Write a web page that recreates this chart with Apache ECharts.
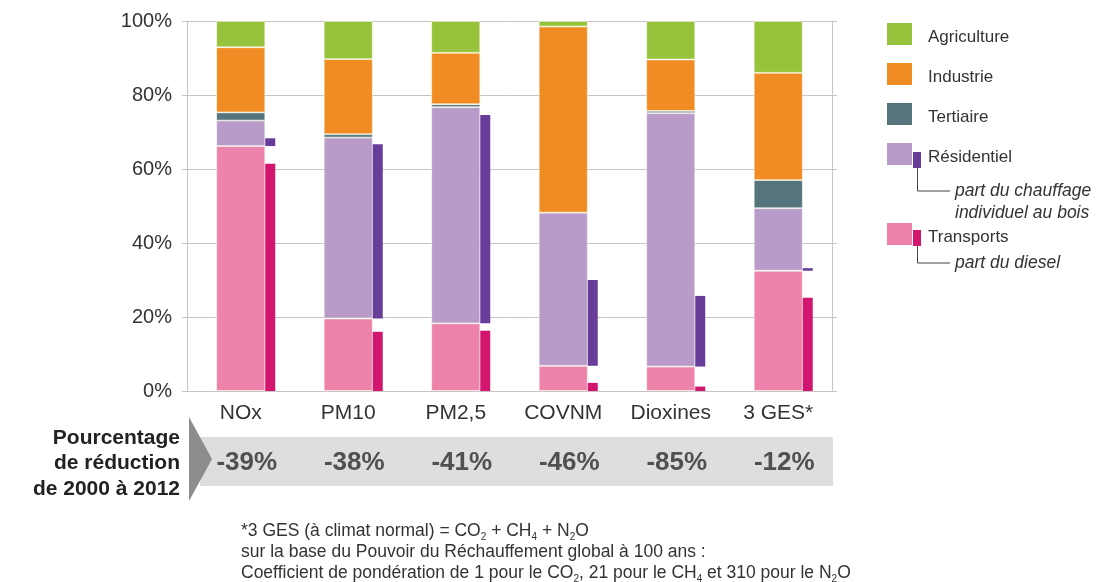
<!DOCTYPE html>
<html>
<head>
<meta charset="utf-8">
<script src="https://cdn.jsdelivr.net/npm/echarts@6/dist/echarts.min.js"></script>
<style>
  html, body { margin: 0; padding: 0; background: #fff; }
  #chart { width: 1105px; height: 582px; }
</style>
</head>
<body>
<div id="chart"></div>
<script>
// Polluants (catégories) et part de chaque secteur dans les émissions (%)
const categories  = ['NOx', 'PM10', 'PM2,5', 'COVNM', 'Dioxines', '3 GES*'];
const transports  = [66.2, 19.6, 18.3, 6.8, 6.6, 32.5];
const residentiel = [6.9, 48.9, 58.4, 41.4, 68.5, 16.9];
const tertiaire   = [2.2, 0.9, 0.8, 0.0, 0.6, 7.6];
const industrie   = [17.6, 20.3, 13.9, 50.3, 13.9, 29.0];
const agriculture = [7.1, 10.3, 8.6, 1.5, 10.4, 14.0];
// Sous-parts : chauffage individuel au bois (dans le résidentiel), diesel (dans les transports)
const chauffageBois = [2.1, 47.1, 56.3, 23.2, 19.1, 0.7];
const diesel        = [61.4, 16.0, 16.3, 2.2, 1.2, 25.2];
// Pourcentage de réduction de 2000 à 2012
const reductions = ['-39%', '-38%', '-41%', '-46%', '-85%', '-12%'];
const yTicks = [0, 20, 40, 60, 80, 100];

const FONT = "'Liberation Sans', Arial, sans-serif";
const MAIN_W = 49;
const THIN_W = 10;

const COLORS = {
  agriculture: '#97c23c',
  industrie: '#f08c23',
  tertiaire: '#56747c',
  residentiel: '#b99bc9',
  transports: '#ed83ab',
  bois: '#673d99',
  diesel: '#d2156f'
};

// Sub-bars drawn to the right of each main column, between two stacked values
function renderSubBar(params, api) {
  const c = api.value(0);
  const lo = api.coord([c, api.value(1)]);
  const hi = api.coord([c, api.value(2)]);
  return {
    type: 'rect',
    shape: { x: lo[0] + MAIN_W / 2, y: hi[1], width: THIN_W, height: lo[1] - hi[1] },
    style: { fill: api.visual('color') }
  };
}

const boisData = categories.map((_, i) => [i, transports[i], transports[i] + chauffageBois[i]]);
const dieselData = categories.map((_, i) => [i, 0, diesel[i]]);

function stackSeries(name, data, color) {
  return {
    name, type: 'bar', stack: 'total', xAxisIndex: 0, yAxisIndex: 0,
    barWidth: MAIN_W, data,
    itemStyle: { color, borderColor: 'rgba(255,255,240,0.7)', borderWidth: 0.8 },
    emphasis: { disabled: true }, silent: true
  };
}

const chart = echarts.init(document.getElementById('chart'), null, { renderer: 'canvas' });

const GRID_LEFT = 187, GRID_RIGHT = 273;

// Legend items
const legendRows = [
  { label: 'Agriculture', color: COLORS.agriculture, y: 23 },
  { label: 'Industrie', color: COLORS.industrie, y: 63 },
  { label: 'Tertiaire', color: COLORS.tertiaire, y: 103 },
  { label: 'Résidentiel', color: COLORS.residentiel, y: 143, sub: COLORS.bois, note: ['part du chauffage', 'individuel au bois'] },
  { label: 'Transports', color: COLORS.transports, y: 223, sub: COLORS.diesel, note: ['part du diesel'] }
];
const legendGraphics = [];
legendRows.forEach(r => {
  legendGraphics.push({ type: 'rect', shape: { x: 887, y: r.y, width: 25, height: 22 }, style: { fill: r.color } });
  legendGraphics.push({ type: 'text', style: { x: 928, y: r.y + 14, text: r.label, font: '17px ' + FONT, fill: '#333', verticalAlign: 'middle' } });
  if (r.sub) {
    const sy = r.y + (r.label === 'Transports' ? 7 : 9);
    legendGraphics.push({ type: 'rect', shape: { x: 913, y: sy, width: 8, height: 16 }, style: { fill: r.sub } });
    const ly = sy + 16 + (r.note.length === 2 ? 23 : 17);
    legendGraphics.push({ type: 'polyline', shape: { points: [[917.5, sy + 16], [917.5, ly], [950, ly]] }, style: { stroke: '#444', lineWidth: 1, fill: null } });
    r.note.forEach((t, k) => {
      legendGraphics.push({ type: 'text', style: { x: 955, y: ly + k * 22, text: t, font: 'italic 17.5px ' + FONT, fill: '#333', verticalAlign: 'middle' } });
    });
  }
});

const footRich = {
  n: { fontSize: 17.5, fontFamily: FONT, fill: '#333', lineHeight: 21 },
  s: { fontSize: 10, fontFamily: FONT, fill: '#333', lineHeight: 21, verticalAlign: 'bottom' }
};

const option = {
  animation: false,
  backgroundColor: '#ffffff',
  grid: { left: GRID_LEFT, right: GRID_RIGHT, top: 21, bottom: 191, containLabel: false },
  xAxis: [
    {
      type: 'category', data: categories, position: 'bottom',
      axisLine: { show: true, lineStyle: { color: '#cbc3c3' } },
      axisTick: { show: false },
      axisLabel: { interval: 0, fontSize: 21, fontFamily: FONT, color: '#333', margin: 12 }
    },
    {
      type: 'category', data: reductions, position: 'bottom', offset: 50,
      axisLine: { show: false }, axisTick: { show: false },
      axisLabel: { interval: 0, fontSize: 26, fontWeight: 'bold', fontFamily: FONT, color: '#505050', margin: 9, padding: [0, 0, 0, 12] }
    }
  ],
  yAxis: [
    {
      type: 'value', min: 0, max: 100, interval: 20,
      axisLine: { show: true, lineStyle: { color: '#cbc3c3' } },
      axisTick: { show: true, length: 5, lineStyle: { color: '#cbc3c3' } },
      axisLabel: {
        fontSize: 20, fontFamily: FONT, color: '#333', margin: 15,
        formatter: v => yTicks.includes(v) ? v + '%' : ''
      },
      splitLine: { show: true, lineStyle: { color: '#cbc3c3', width: 1 } }
    },
    {
      type: 'value', min: 0, max: 100, interval: 20, position: 'right',
      axisLine: { show: true, lineStyle: { color: '#cbc3c3' } },
      axisTick: { show: true, length: 5, lineStyle: { color: '#cbc3c3' } },
      axisLabel: { show: false }, splitLine: { show: false }
    }
  ],
  series: [
    stackSeries('Transports', transports, COLORS.transports),
    stackSeries('Résidentiel', residentiel, COLORS.residentiel),
    stackSeries('Tertiaire', tertiaire, COLORS.tertiaire),
    stackSeries('Industrie', industrie, COLORS.industrie),
    stackSeries('Agriculture', agriculture, COLORS.agriculture),
    {
      name: 'part du chauffage individuel au bois', type: 'custom', renderItem: renderSubBar,
      data: boisData, encode: { x: 0, y: [1, 2] }, itemStyle: { color: COLORS.bois }, silent: true, z: 3
    },
    {
      name: 'part du diesel', type: 'custom', renderItem: renderSubBar,
      data: dieselData, encode: { x: 0, y: [1, 2] }, itemStyle: { color: COLORS.diesel }, silent: true, z: 3
    }
  ],
  graphic: [
    // Bandeau du pourcentage de réduction
    { type: 'rect', z: -10, shape: { x: 200, y: 437, width: 633, height: 49 }, style: { fill: '#dededd' } },
    { type: 'polygon', z: -9, shape: { points: [[189, 417], [212, 459], [189, 501]] }, style: { fill: '#8b8d8f' } },
    { type: 'text', style: { x: 180, y: 438, text: 'Pourcentage', font: 'bold 21px ' + FONT, fill: '#222', align: 'right', verticalAlign: 'middle' } },
    { type: 'text', style: { x: 180, y: 463, text: 'de réduction', font: 'bold 21px ' + FONT, fill: '#222', align: 'right', verticalAlign: 'middle' } },
    { type: 'text', style: { x: 180, y: 489, text: 'de 2000 à 2012', font: 'bold 21px ' + FONT, fill: '#222', align: 'right', verticalAlign: 'middle' } },
    // Note de bas de page
    {
      type: 'text',
      style: {
        x: 241, y: 521,
        text: [
          '{n|*3 GES (à climat normal) = CO}{s|2}{n| + CH}{s|4}{n| + N}{s|2}{n|O}',
          '{n|sur la base du Pouvoir du Réchauffement global à 100 ans :}',
          '{n|Coefficient de pondération de 1 pour le CO}{s|2}{n|, 21 pour le CH}{s|4}{n| et 310 pour le N}{s|2}{n|O}'
        ].join('\n'),
        rich: footRich,
        fill: '#333'
      }
    }
  ].concat(legendGraphics)
};

chart.setOption(option);
</script>
</body>
</html>
